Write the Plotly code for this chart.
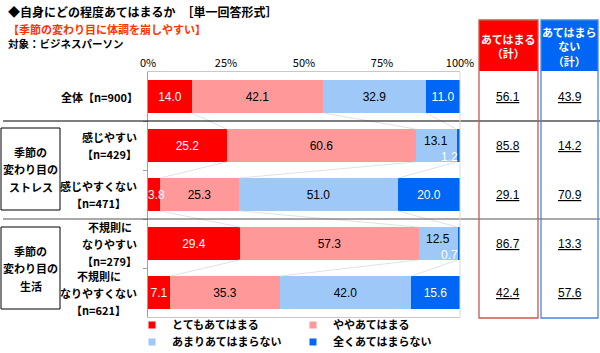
import plotly.graph_objects as go

# ---------------- data ----------------
categories = ["全体【n=900】", "感じやすい\n【n=429】", "感じやすくない\n【n=471】",
              "不規則に\nなりやすい\n【n=279】", "不規則に\nなりやすくない\n【n=621】"]
series_names = ["とてもあてはまる", "ややあてはまる", "あまりあてはまらない", "全くあてはまらない"]
very = [14.0, 25.2, 3.8, 29.4, 7.1]
somewhat = [42.1, 60.6, 25.3, 57.3, 35.3]
not_much = [32.9, 13.1, 51.0, 12.5, 42.0]
not_at_all = [11.0, 1.2, 20.0, 0.7, 15.6]
applies_total = [56.1, 85.8, 29.1, 86.7, 42.4]
not_applies_total = [43.9, 14.2, 70.9, 13.3, 57.6]
group_labels = ["季節の\n変わり目の\nストレス", "季節の\n変わり目の\n生活"]
header_labels = ["あてはまる<br>（計）", "あてはまら<br>ない<br>（計）"]
x_tickvals = [0, 25, 50, 75, 100]
x_ticktext = ["0%", "25%", "50%", "75%", "100%"]
title_text = "◆自身にどの程度あてはまるか　［単一回答形式］"
subtitle_text = "【季節の変わり目に体調を崩しやすい】"
target_text = "対象：ビジネスパーソン"

colors = ["#FF0000", "#FF9999", "#9DC8F8", "#0066F5"]
text_colors = ["white", "black", "black", "white"]
series = [very, somewhat, not_much, not_at_all]

JP = "Noto Sans CJK JP"
NUM = "Liberation Sans, Arial"

# ---------------- geometry helpers ----------------
L, T, W, H = 148, 72, 312, 245
def px_x(px):
    return (px - L) / W
def px_y(py):
    return (T + H - py) / H

def text_w(s, size=11):
    w = 0
    for ch in s:
        w += size * (0.58 if ord(ch) < 128 else 1.0)
    return w

rows = list(range(len(categories)))
bar_w = 0.67

fig = go.Figure()

# connector (series) lines between adjacent bars
cum = []
for i in rows:
    c, acc = [], 0
    for s in series:
        acc += s[i]
        c.append(acc)
    cum.append(c)
lx, ly = [], []
for i in rows[:-1]:
    for k in range(3):
        lx += [cum[i][k], cum[i + 1][k], None]
        ly += [i + bar_w / 2, i + 1 - bar_w / 2, None]
fig.add_trace(go.Scatter(x=lx, y=ly, mode="lines", line=dict(color="#D9D9D9", width=0.8),
                         hoverinfo="skip", showlegend=False))

# bars
small = [v < 2 for v in not_at_all]
for k, (name, vals) in enumerate(zip(series_names, series)):
    txt = []
    for i, v in enumerate(vals):
        if k >= 2 and small[i]:
            txt.append("")
        elif v < 5:
            # narrow segment: label drawn as an annotation (not clipped)
            txt.append("")
            start = cum[i][k] - v
            fig.add_annotation(x=start + v / 2, y=i, xref="x", yref="y", xshift=3,
                               xanchor="center", yanchor="middle", showarrow=False,
                               text=f"{v:.1f}",
                               font=dict(size=12, family=NUM, color=text_colors[k]))
        else:
            txt.append(f"{v:.1f}")
    fig.add_trace(go.Bar(
        x=vals, y=rows, orientation="h", name=name, width=bar_w,
        marker=dict(color=colors[k], line=dict(width=0)),
        text=txt, textposition="inside", insidetextanchor="middle", textangle=0,
        constraintext="none",
        textfont=dict(color=text_colors[k], size=12, family=NUM),
        showlegend=False, hoverinfo="skip"))

# labels for rows with tiny last segment
for i in rows:
    if small[i]:
        start = very[i] + somewhat[i]
        fig.add_annotation(x=start + not_much[i] / 2, y=i, xref="x", yref="y",
                           xanchor="center", yanchor="middle",
                           text=f"{not_much[i]:.1f}", showarrow=False, yshift=5,
                           font=dict(size=12, family=NUM, color="black"))
        fig.add_annotation(x=100, y=i, xref="x", yref="y", xanchor="right", yanchor="middle",
                           text=f"{not_at_all[i]:.1f}", showarrow=False, yshift=-11,
                           font=dict(size=12, family=NUM, color="white"))

# legend dummies
for k, name in enumerate(series_names):
    fig.add_trace(go.Scatter(x=[None], y=[None], mode="markers", name=name,
                             marker=dict(symbol="square", size=7, color=colors[k]),
                             legend="legend" if k < 2 else "legend2"))

# ---------------- text annotations ----------------
def line_block(text, cx, cy, spacing=17, size=11, color="black"):
    lines = text.split("\n")
    n = len(lines)
    for j, ln in enumerate(lines):
        y = cy + (j - (n - 1) / 2) * spacing
        fig.add_annotation(x=px_x(cx), y=px_y(y), xref="paper", yref="paper",
                           text=ln, showarrow=False, xanchor="center", yanchor="middle",
                           font=dict(size=size, family=JP, color=color, weight="bold"))

# category labels (centered block, right edge near axis)
for i, cat in enumerate(categories):
    width = max(text_w(s) for s in cat.split("\n"))
    cy = T + (i + 0.5) * H / len(categories)
    line_block(cat, 137 - width / 2, cy)

# group boxes & labels
group_boxes = [(128, 210), (227, 309)]
for (y0, y1), g in zip(group_boxes, group_labels):
    fig.add_shape(type="rect", xref="paper", yref="paper", x0=px_x(1), x1=px_x(60),
                  y0=px_y(y0), y1=px_y(y1), line=dict(color="black", width=1))
    line_block(g, 30.5, (y0 + y1) / 2, spacing=17.5)

# separators
fig.add_shape(type="line", xref="paper", yref="y", x0=px_x(3), x1=px_x(600), y0=0.5, y1=0.5,
              line=dict(color="black", width=1.2))
fig.add_shape(type="line", xref="paper", yref="y", x0=px_x(3), x1=px_x(600), y0=2.5, y1=2.5,
              line=dict(color="#555555", width=1.2))

# right edge of plot
fig.add_shape(type="line", xref="paper", yref="paper", x0=1, x1=1, y0=0, y1=1,
              line=dict(color="#D9D9D9", width=1))

# right summary table
cols = [(479, 538, "#FF0000", "#C8584C", applies_total),
        (541, 598, "#0066F5", "#4A86E0", not_applies_total)]
for (x0, x1, fill, edge, vals), hdr in zip(cols, header_labels):
    fig.add_shape(type="rect", xref="paper", yref="paper", x0=px_x(x0), x1=px_x(x1),
                  y0=px_y(71), y1=px_y(20), fillcolor=fill, line=dict(width=0))
    fig.add_shape(type="rect", xref="paper", yref="paper", x0=px_x(x0), x1=px_x(x1),
                  y0=px_y(318), y1=px_y(20), line=dict(color=edge, width=1.3))
    fig.add_annotation(x=px_x((x0 + x1) / 2), y=px_y(46), xref="paper", yref="paper",
                       xanchor="center", yanchor="middle",
                       text=hdr, showarrow=False, align="center",
                       font=dict(size=11, family=JP, color="white", weight="bold"))
    for i, v in enumerate(vals):
        fig.add_annotation(x=px_x((x0 + x1) / 2), y=i, xref="paper", yref="y",
                           xanchor="center", yanchor="middle",
                           text=f"<u>{v:.1f}</u>", showarrow=False,
                           font=dict(size=12, family=NUM, color="black"))

# titles
for txt, y, col, size in [(title_text, 12, "black", 12), (subtitle_text, 29, "#FF3300", 11),
                          (target_text, 44, "black", 10.5)]:
    fig.add_annotation(x=px_x(6), y=px_y(y), xref="paper", yref="paper", text=txt,
                       showarrow=False, xanchor="left", yanchor="middle",
                       font=dict(size=size, family=JP, color=col, weight="bold"))

legend_common = dict(orientation="h", xanchor="left", yanchor="middle", traceorder="normal",
                     font=dict(size=11, family=JP, color="black", weight="bold"),
                     bgcolor="rgba(0,0,0,0)", entrywidth=116, entrywidthmode="pixels",
                     itemwidth=30, borderwidth=0)

fig.update_layout(
    width=600, height=353,
    margin=dict(l=L, r=600 - L - W, t=T, b=353 - T - H, autoexpand=False),
    paper_bgcolor="white", plot_bgcolor="white", barmode="stack", bargap=0,
    xaxis=dict(range=[0, 100], side="top", tickvals=x_tickvals, ticktext=x_ticktext,
               showgrid=False, zeroline=False, ticks="", showline=True, mirror=True,
               linecolor="#C8C8C8", linewidth=1,
               tickfont=dict(size=11, family=JP, color="black")),
    yaxis=dict(range=[len(categories) - 0.5, -0.5], tickvals=[0.5, 1.5, 2.5, 3.5],
               ticks="outside", ticklen=4, tickcolor="#A0A0A0", showticklabels=False,
               showgrid=False, zeroline=False, showline=True, linecolor="#A0A0A0", linewidth=1),
    legend=dict(x=px_x(132), y=px_y(325), **legend_common),
    legend2=dict(x=px_x(132), y=px_y(342), **legend_common),
    showlegend=True,
)

fig.write_html("out.html")
